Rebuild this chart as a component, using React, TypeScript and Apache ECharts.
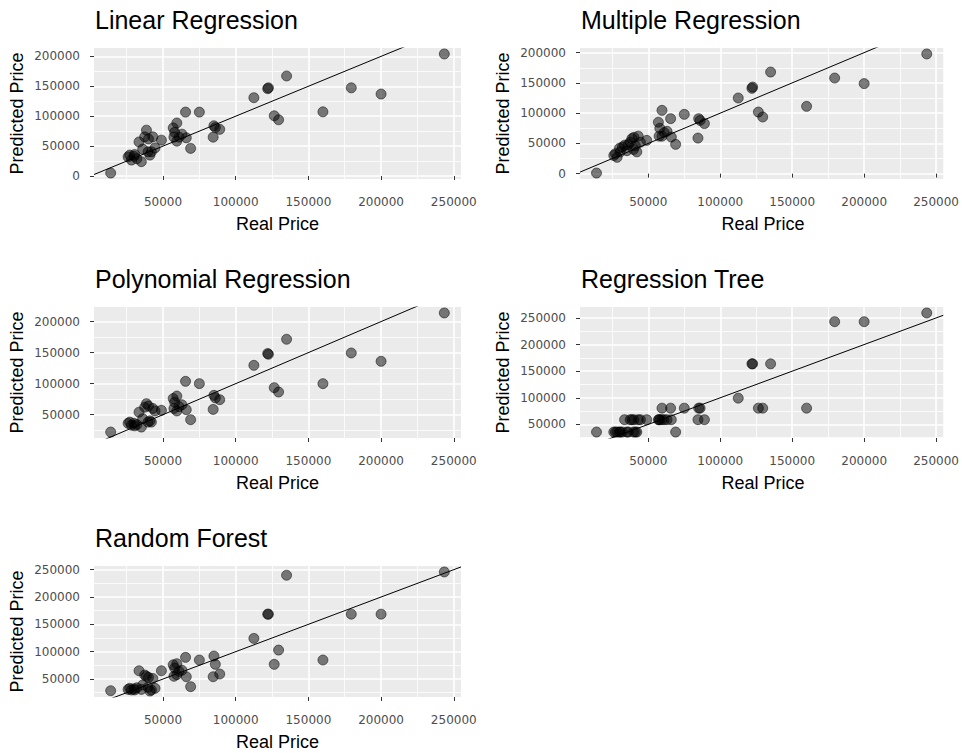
import React, { useEffect, useRef } from "react";
import * as echarts from "echarts";

// Observed sale prices (shared by every model panel)
const realPrice = [
  243500, 200000, 179500, 160000, 135000, 129500, 126500, 122500, 122000, 112500,
  89000, 85000, 84500, 86000, 75000, 65500, 69000, 66000, 59500, 57000,
  59500, 58000, 61000, 63000, 57500, 14000, 48900, 43000, 38600, 33500,
  37400, 40000, 27100, 28300, 35100, 39700, 30000, 32000, 26000, 42000,
  36000, 30500, 44500, 41000,
];

// Predictions of each model, aligned with realPrice
const linearPred = [
  204000, 137000, 147400, 107300, 167200, 94000, 100700, 147400, 146000, 130900,
  78000, 84000, 65000, 81000, 106800, 106800, 46200, 63900, 88600, 80400,
  58300, 73000, 65000, 70000, 65000, 5000, 60000, 65500, 76700, 57000,
  65500, 62000, 35000, 26700, 24000, 40500, 33000, 29000, 32000, 40500,
  45000, 36000, 47000, 35000,
];
const multiplePred = [
  197800, 148800, 158000, 111200, 167900, 93600, 101800, 143100, 141000, 125000,
  82700, 90900, 58800, 88000, 98000, 90900, 48400, 60500, 104600, 85000,
  62000, 75000, 68000, 70000, 62000, 1000, 55000, 62000, 58000, 47000,
  52000, 60000, 33000, 27000, 38000, 40000, 42000, 44000, 30000, 36000,
  48000, 36000, 52000, 46000,
];
const polynomialPred = [
  213900, 136000, 149400, 100000, 171500, 86500, 93500, 147300, 148500, 129500,
  74200, 81100, 58500, 77000, 100000, 103700, 41900, 58000, 80000, 76000,
  56000, 70000, 63000, 66000, 60000, 22000, 57000, 60000, 67700, 54000,
  62000, 64000, 38000, 33000, 30000, 38000, 36000, 34000, 36000, 38000,
  43500, 32000, 56000, 40000,
];
const treePred = [
  259400, 243000, 243000, 80500, 163800, 80500, 80500, 163800, 163800, 99300,
  58800, 80500, 58800, 80500, 80500, 80500, 35600, 58800, 80500, 58800,
  58800, 58800, 58800, 58800, 58800, 35600, 58800, 58800, 58800, 58800,
  58800, 58800, 35600, 35600, 35600, 35600, 35600, 35600, 35600, 35600,
  35600, 35600, 58800, 35600,
];
const forestPred = [
  245800, 168600, 168600, 84700, 239800, 102900, 76800, 168600, 168600, 124300,
  59100, 92000, 54200, 76800, 84700, 89600, 36000, 54200, 78000, 76000,
  58000, 70000, 64000, 66000, 55000, 28600, 65100, 51000, 55000, 65100,
  57300, 53000, 33000, 30000, 31000, 35000, 32000, 34000, 31000, 30000,
  39000, 30000, 33000, 28000,
];

const panelTitles = [
  "Linear Regression",
  "Multiple Regression",
  "Polynomial Regression",
  "Regression Tree",
  "Random Forest",
];
const panelPredictions = [linearPred, multiplePred, polynomialPred, treePred, forestPred];
const xAxisTitle = "Real Price";
const yAxisTitle = "Predicted Price";
const breakStep = 50000;

// Panel placement (plot area boxes)
const panelBoxes = [
  { left: 94, top: 48, width: 367 },
  { left: 580, top: 48, width: 366 },
  { left: 94, top: 307, width: 367 },
  { left: 580, top: 307, width: 366 },
  { left: 94, top: 566, width: 367 },
];
const PANEL_H = 131;

const BG = "#EBEBEB";
const TICK_FONT = "DejaVu Sans";
const TEXT_FONT = "Liberation Sans";

// 5% padding on both ends of the data range
const expand = (vals: number[]): [number, number] => {
  const lo = Math.min(...vals);
  const hi = Math.max(...vals);
  const pad = (hi - lo) * 0.05;
  return [lo - pad, hi + pad];
};

const stepsWithin = (ext: [number, number], step: number, offset: number) => {
  const out: number[] = [];
  for (let v = Math.ceil((ext[0] - offset) / step) * step + offset; v <= ext[1] + 1e-6; v += step) {
    out.push(v);
  }
  return out;
};

function buildOption() {
  const xExt = expand(realPrice);
  const xMajor = stepsWithin(xExt, breakStep, 0);
  const xMinor = stepsWithin(xExt, breakStep, breakStep / 2);

  const grids: any[] = [];
  const xAxes: any[] = [];
  const yAxes: any[] = [];
  const series: any[] = [];
  const graphics: any[] = [];

  const labelStyle = {
    fontFamily: TICK_FONT,
    fontSize: 12,
    lineHeight: 12,
    color: "#4d4d4d",
    formatter: (v: number) => String(Math.round(v)),
  };

  panelPredictions.forEach((pred, i) => {
    const box = panelBoxes[i];
    const yExt = expand(pred);
    const yMajor = stepsWithin(yExt, breakStep, 0);
    const yMinor = stepsWithin(yExt, breakStep, breakStep / 2);

    grids.push({
      left: box.left,
      top: box.top,
      width: box.width,
      height: PANEL_H,
      show: true,
      backgroundColor: BG,
      borderWidth: 0,
    });

    // major axis (ticks, labels, major grid lines)
    xAxes.push({
      type: "value",
      gridIndex: i,
      position: "bottom",
      min: xExt[0],
      max: xExt[1],
      axisLine: { show: false },
      axisTick: { show: true, length: 4, customValues: xMajor, lineStyle: { color: "#333", width: 1 } },
      axisLabel: { ...labelStyle, margin: 17, customValues: xMajor },
      splitLine: { show: true, lineStyle: { color: "#ffffff", width: 1.6 } },
    });
    // minor grid lines
    xAxes.push({
      type: "value",
      gridIndex: i,
      position: "bottom",
      min: xExt[0],
      max: xExt[1],
      axisLine: { show: false },
      axisTick: { show: false, customValues: xMinor },
      axisLabel: { show: false, customValues: xMinor },
      splitLine: { show: true, lineStyle: { color: "#ffffff", width: 0.8 } },
    });
    yAxes.push({
      type: "value",
      gridIndex: i,
      position: "left",
      min: yExt[0],
      max: yExt[1],
      axisLine: { show: false },
      axisTick: { show: true, length: 4, customValues: yMajor, lineStyle: { color: "#333", width: 1 } },
      axisLabel: { ...labelStyle, margin: 14, customValues: yMajor },
      splitLine: { show: true, lineStyle: { color: "#ffffff", width: 1.6 } },
    });
    yAxes.push({
      type: "value",
      gridIndex: i,
      position: "left",
      min: yExt[0],
      max: yExt[1],
      axisLine: { show: false },
      axisTick: { show: false, customValues: yMinor },
      axisLabel: { show: false, customValues: yMinor },
      splitLine: { show: true, lineStyle: { color: "#ffffff", width: 0.8 } },
    });

    series.push({
      type: "scatter",
      xAxisIndex: 2 * i,
      yAxisIndex: 2 * i,
      data: realPrice.map((x, j) => [x, pred[j]]),
      symbol: "circle",
      symbolSize: 10,
      itemStyle: {
        color: "rgba(0,0,0,0.5)",
        borderColor: "rgba(0,0,0,0.5)",
        borderWidth: 1,
        opacity: 1,
      },
      silent: true,
      z: 2,
    });
    // identity line: predicted = real
    series.push({
      type: "line",
      xAxisIndex: 2 * i,
      yAxisIndex: 2 * i,
      data: [
        [xExt[0], xExt[0]],
        [xExt[1], xExt[1]],
      ],
      showSymbol: false,
      symbol: "none",
      clip: true,
      lineStyle: { color: "#000", width: 1 },
      silent: true,
      z: 3,
    });

    // panel title
    graphics.push({
      type: "text",
      x: box.left + 1,
      y: box.top - 19 - 0.3465 * 25,
      silent: true,
      style: {
        text: panelTitles[i],
        font: `25px "${TEXT_FONT}"`,
        fill: "#000",
        align: "left",
        verticalAlign: "middle",
      },
    });
    // x axis title
    graphics.push({
      type: "text",
      x: box.left + box.width / 2,
      y: box.top + PANEL_H + 51 - 0.3465 * 18,
      silent: true,
      style: {
        text: xAxisTitle,
        font: `18px "${TEXT_FONT}"`,
        fill: "#000",
        align: "center",
        verticalAlign: "middle",
      },
    });
    // y axis title
    graphics.push({
      type: "text",
      x: box.left - 70.7 - 0.3465 * 18,
      y: box.top + PANEL_H / 2,
      rotation: Math.PI / 2,
      silent: true,
      style: {
        text: yAxisTitle,
        font: `18px "${TEXT_FONT}"`,
        fill: "#000",
        align: "center",
        verticalAlign: "middle",
      },
    });
  });

  return {
    animation: false,
    backgroundColor: "#ffffff",
    grid: grids,
    xAxis: xAxes,
    yAxis: yAxes,
    series,
    graphic: graphics,
  };
}

export default function App() {
  const ref = useRef<HTMLDivElement>(null);

  useEffect(() => {
    document.body.style.margin = "0";
    if (!ref.current) return;
    const chart = echarts.init(ref.current, undefined, { renderer: "svg" });
    chart.setOption(buildOption());
    return () => chart.dispose();
  }, []);

  return <div ref={ref} style={{ width: 962, height: 753 }} />;
}
